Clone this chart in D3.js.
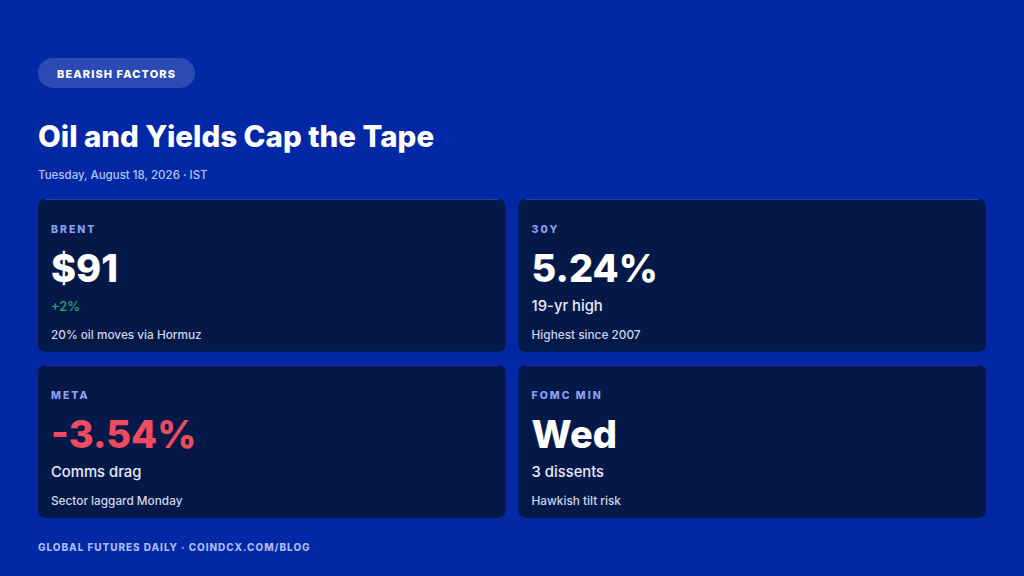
<!DOCTYPE html>
<html>
<head>
<meta charset="utf-8">
<script src="https://cdn.jsdelivr.net/npm/d3@7/dist/d3.min.js"></script>
<style>
  html, body { margin: 0; padding: 0; background: #0328a6; }
  svg { display: block; }
  text { font-family: "Inter", "Noto Sans", sans-serif; }
</style>
</head>
<body>
<svg id="chart" width="1024" height="576"></svg>
<script>
const tag = "BEARISH FACTORS";
const title = "Oil and Yields Cap the Tape";
const dateline = "Tuesday, August 18, 2026 · IST";
const footer = "GLOBAL FUTURES DAILY · COINDCX.COM/BLOG";

const labels = ["BRENT", "30Y", "META", "FOMC MIN"];
const values = ["$91", "5.24%", "-3.54%", "Wed"];
const subs   = ["+2%", "19-yr high", "Comms drag", "3 dissents"];
const notes  = ["20% oil moves via Hormuz", "Highest since 2007", "Sector laggard Monday", "Hawkish tilt risk"];

const W = 1024, H = 576;
const svg = d3.select("#chart");

svg.append("rect").attr("width", W).attr("height", H).attr("fill", "#0328a6");

// tag pill
const pill = svg.append("g").attr("transform", "translate(38,58)");
pill.append("rect").attr("width", 157).attr("height", 30).attr("rx", 15)
  .attr("fill", "#ffffff").attr("fill-opacity", 0.16);
pill.append("text").attr("x", 78.5).attr("y", 19.5).attr("text-anchor", "middle")
  .attr("fill", "#ffffff").attr("font-size", 11).attr("font-weight", 800)
  .attr("letter-spacing", 1.1).text(tag);

svg.append("text").attr("x", 38).attr("y", 147)
  .attr("fill", "#ffffff").attr("font-size", 29.5).attr("font-weight", 800)
  .text(title);

svg.append("text").attr("x", 38).attr("y", 179)
  .attr("fill", "#b4c2f2").attr("font-size", 11.5).attr("font-weight", 500)
  .text(dateline);

// grid of cards via band scales
const cols = d3.scaleBand().domain([0, 1]).range([38, 986]).paddingInner(13 / 474);
const rows = d3.scaleBand().domain([0, 1]).range([199, 518]).paddingInner(13 / 160);

const cards = svg.selectAll("g.card").data(labels.map((l, i) => ({
  label: l, value: values[i], sub: subs[i], note: notes[i], i
}))).join("g").attr("class", "card")
  .attr("transform", d => `translate(${cols(d.i % 2)},${rows(Math.floor(d.i / 2))})`);

cards.append("rect").attr("width", cols.bandwidth()).attr("height", rows.bandwidth())
  .attr("rx", 7).attr("fill", "#051949");
cards.append("line").attr("x1", 7).attr("x2", cols.bandwidth() - 7).attr("y1", 0.5).attr("y2", 0.5)
  .attr("stroke", "#3557c8").attr("stroke-opacity", 0.6).attr("stroke-width", 1);

cards.append("text").attr("x", 13).attr("y", 34)
  .attr("fill", "#8c9ff2").attr("font-size", 10.5).attr("font-weight", 800)
  .attr("letter-spacing", 2).text(d => d.label);

cards.append("text").attr("x", 13).attr("y", 83)
  .attr("fill", d => d.value.startsWith("-") ? "#ef4b5f" : "#ffffff")
  .attr("font-size", 38).attr("font-weight", 800).attr("letter-spacing", 0)
  .text(d => d.value);

cards.append("text").attr("x", 13).attr("y", 112)
  .attr("fill", d => d.sub.startsWith("+") ? "#22a86e" : "#e6eaf8")
  .attr("font-size", d => d.sub.startsWith("+") ? 13 : 14.8).attr("font-weight", 500)
  .text(d => d.sub);

cards.append("text").attr("x", 13).attr("y", 140)
  .attr("fill", "#cfd5ec").attr("font-size", 11.8).attr("font-weight", 500)
  .text(d => d.note);

svg.append("text").attr("x", 38).attr("y", 551)
  .attr("fill", "#a8b8f0").attr("font-size", 10).attr("font-weight", 800)
  .attr("letter-spacing", 0.95).text(footer);
</script>
</body>
</html>
